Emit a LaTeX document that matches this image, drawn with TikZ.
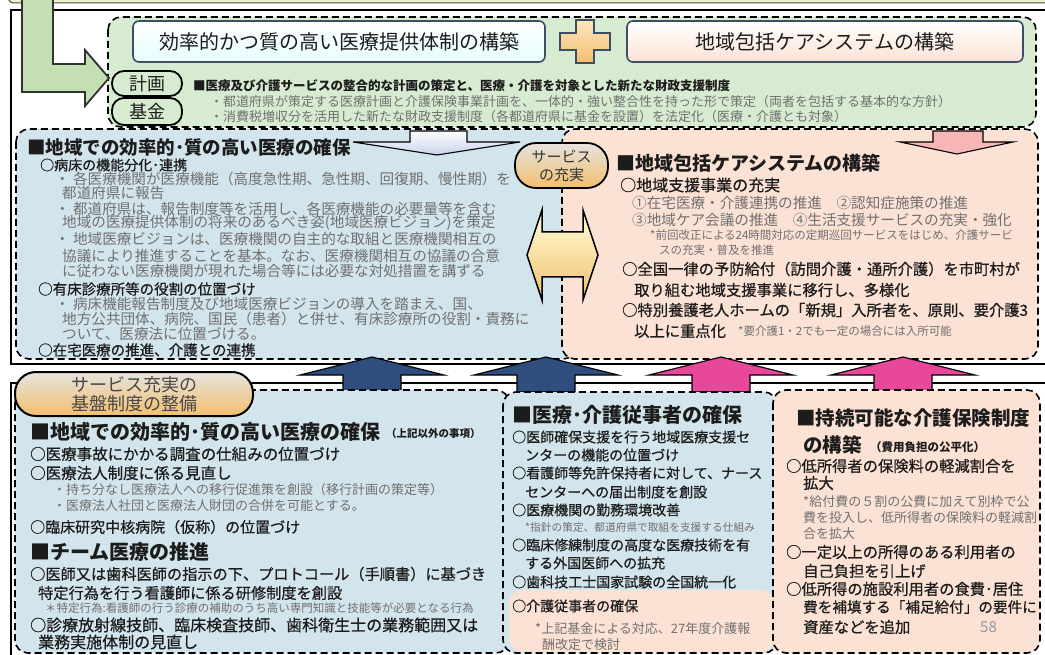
\documentclass[tikz,border=0pt]{standalone}
\usepackage{fontspec}
\newfontfamily\jp{Noto Sans CJK JP}
\newfontfamily\jpm[FakeBold=0.6]{Noto Sans CJK JP}
\definecolor{gfill}{HTML}{D7EBD0}
\definecolor{bfill}{HTML}{D2E4EC}
\definecolor{pfill}{HTML}{FCE2D4}
\definecolor{gtxt}{HTML}{707070}
\definecolor{ktxt}{HTML}{1C1C1C}
\definecolor{navyA}{HTML}{2F4E7E}
\definecolor{pinkA}{HTML}{E8489A}
\definecolor{larrow}{HTML}{C4DFB3}
\definecolor{orangeB}{HTML}{F2BF6E}
\definecolor{bubtop}{HTML}{E6E3DE}
\definecolor{lavA}{HTML}{C9D2EC}
\definecolor{pinkL}{HTML}{F6B6B6}
\definecolor{stripfill}{HTML}{EEF1CC}
\definecolor{numgray}{HTML}{8C9AA6}
\definecolor{boxline}{HTML}{3D4D66}
\tikzset{
 tl/.style={anchor=west,inner sep=0pt,text=ktxt},
 gr/.style={text=gtxt},
 bx/.style={rounded corners=13pt,dash pattern=on 7pt off 4pt,line width=1.6pt,draw=black},
 frame/.style={draw=black,line width=2.8pt},
 upar/.style={draw=black,line width=1.1pt,line join=miter},
 tbox/.style={draw=boxline,line width=1.6pt,rounded corners=6pt,inner sep=0pt,text=ktxt},
 pill/.style={draw=black,line width=1.8pt,rounded corners=12pt,fill=gfill,inner sep=0pt,text=ktxt},
 bubble/.style={draw=black,line width=1.8pt,inner sep=0pt,align=center,top color=bubtop,bottom color=orangeB},
}
\newcommand\tline[5][]{\node[tl,font={\jpm\fontsize{#4}{#4}\selectfont},#1] (#2) at (#3) {#5};}
\newcommand\gline[4]{\node[tl,gr,font={\jp\fontsize{#3}{#3}\selectfont}] (#1) at (#2) {#4};}
\newcommand\btline[4]{\node[tl,font={\jp\bfseries\fontsize{#3}{#3}\selectfont}] (#1) at (#2) {#4};}
\newcommand\bigup[2]{\draw[upar,fill=#2,shift={(#1,0)}] (-29,392) -- (-29,375) -- (-72,375) -- (0,357) -- (72,375) -- (29,375) -- (29,392) -- cycle;}
\begin{document}
\begin{tikzpicture}[x=1pt,y=-1pt]
\useasboundingbox (0,0) rectangle (1045,655);
\fill[white] (0,0) rectangle (1045,655);
% top strip (box above)
\draw[fill=stripfill,draw=black!70,line width=1pt,rounded corners=6pt] (8,-30) rectangle (1070,3);
% upper frame
\draw[frame] (11,10) rectangle (1075,364);
% green box
\draw[bx,fill=gfill] (108,17) rectangle (1036,127);
% upper blue / peach boxes
\draw[bx,fill=bfill] (16,129) rectangle (576,359);
\draw[bx,fill=pfill] (562,129) rectangle (1038,359);
% small down arrows
\draw[upar,top color=white,bottom color=lavA] (410,131) -- (467,131) -- (467,142) -- (520,142) -- (437,155) -- (353,142) -- (410,142) -- cycle;
\draw[upar,fill=pinkL] (933,131) -- (983,131) -- (983,142) -- (1013,142) -- (957,154) -- (900,142) -- (933,142) -- cycle;
% green L arrow
\draw[line width=1.8pt,draw=black!80,fill=larrow,line join=miter] (22,-10) -- (53,-10) -- (53,64) -- (85,64) -- (85,50) -- (109,78) -- (85,106) -- (85,92) -- (22,92) -- cycle;
% title boxes
\node[tbox,top color=white,bottom color=blue!8!cyan!10,minimum width=412pt,minimum height=41pt,font={\jp\fontsize{20}{20}\selectfont}] (h1) at (339,41.5) {効率的かつ質の高い医療提供体制の構築};
\node[tbox,top color=white,bottom color=pfill,minimum width=396pt,minimum height=41pt,font={\jp\fontsize{20}{20}\selectfont}] (h2) at (825,41.5) {地域包括ケアシステムの構築};
\draw[line width=1.6pt,draw=boxline,top color=yellow!20!orange!25,bottom color=orangeB,line join=miter] (576,20) -- (594,20) -- (594,33) -- (610,33) -- (610,50) -- (594,50) -- (594,63) -- (576,63) -- (576,50) -- (560,50) -- (560,33) -- (576,33) -- cycle;
\node[pill,minimum width=70pt,minimum height=25pt,font={\jp\fontsize{18}{18}\selectfont}] (kk) at (147,83.5) {計画};
\node[pill,minimum width=70pt,minimum height=27pt,font={\jp\fontsize{18}{18}\selectfont}] (kf) at (147,111.5) {基金};
% top green texts
\btline{g1}{193,86}{12.5}{■医療及び介護サービスの整合的な計画の策定と、医療・介護を対象とした新たな財政支援制度}
\gline{g2}{210,102}{13}{・都道府県が策定する医療計画と介護保険事業計画を、一体的・強い整合性を持った形で策定（両者を包括する基本的な方針）}
\gline{g3}{210,117}{13}{・消費税増収分を活用した新たな財政支援制度（各都道府県に基金を設置）を法定化（医療・介護とも対象）}
% upper left texts
\btline{a0}{27,147}{18.5}{■地域での効率的･質の高い医療の確保}
\tline{a1}{40,165}{14}{○病床の機能分化･連携}
\gline{a2}{55,179}{14.6}{・ 各医療機関が医療機能（高度急性期、急性期、回復期、慢性期）を}
\gline{a3}{62,193}{14.6}{都道府県に報告}
\gline{a4}{55,209}{14.6}{・ 都道府県は、報告制度等を活用し、各医療機能の必要量等を含む}
\gline{a5}{62,223}{14.6}{地域の医療提供体制の将来のあるべき姿(地域医療ビジョン)を策定}
\gline{a6}{55,239}{14.6}{・ 地域医療ビジョンは、医療機関の自主的な取組と医療機関相互の}
\gline{a7}{62,256}{14.6}{協議により推進することを基本。なお、医療機関相互の協議の合意}
\gline{a8}{62,271}{14.6}{に従わない医療機関が現れた場合等には必要な対処措置を講ずる}
\tline{a9}{38,289}{14.5}{○有床診療所等の役割の位置づけ}
\gline{a10}{55,304}{14.6}{・ 病床機能報告制度及び地域医療ビジョンの導入を踏まえ、国、}
\gline{a11}{62,319}{14.6}{地方公共団体、病院、国民（患者）と併せ、有床診療所の役割・責務に}
\gline{a12}{62,334}{14.6}{ついて、医療法に位置づける。}
\tline{a13}{38,350}{14.5}{○在宅医療の推進、介護との連携}
% upper right texts
\btline{b0}{616,163}{19}{■地域包括ケアシステムの構築}
\tline{b1}{620,185}{16}{○地域支援事業の充実}
\gline{b2}{632,203}{14.6}{①在宅医療・介護連携の推進　②認知症施策の推進}
\gline{b3}{632,220}{14.6}{③地域ケア会議の推進　④生活支援サービスの充実・強化}
\gline{b4}{650,235}{11.5}{*前回改正による24時間対応の定期巡回サービスをはじめ、介護サービ}
\gline{b5}{659,250}{11.5}{スの充実・普及を推進}
\tline{b6}{622,269}{15.3}{○全国一律の予防給付（訪問介護・通所介護）を市町村が}
\tline{b7}{634,290}{15.3}{取り組む地域支援事業に移行し、多様化}
\tline{b8}{622,310}{15.3}{○特別養護老人ホームの「新規」入所者を、原則、要介護3}
\tline{b9}{634,331}{15.3}{以上に重点化}
\gline{b10}{738,331}{11.5}{*要介護1・2でも一定の場合には入所可能}
% bubble and double arrow
\node[bubble,rounded corners=21pt,minimum width=93pt,minimum height=45pt,font={\jp\fontsize{15}{18}\selectfont},text=black!80] (sv) at (561.5,165.5) {サービス\\の充実};
\draw[line width=1.5pt,draw=black,top color=yellow!15,bottom color=orangeB,line join=miter] (527,255) -- (542,210) -- (542,232) -- (583,232) -- (583,210) -- (598,255) -- (583,300) -- (583,277) -- (542,277) -- (542,300) -- cycle;
% lower frame
\draw[frame] (11,383) rectangle (1075,680);
% up arrows
\bigup{372}{navyA}
\bigup{546}{navyA}
\bigup{721}{pinkA}
\bigup{903}{pinkA}
% lower boxes
\draw[bx,fill=bfill] (15,390) rectangle (509,653);
\fill[bfill,rounded corners=13pt] (503,392) rectangle (777,653);
\fill[pfill,rounded corners=14pt] (509,590) rectangle (775,652);
\draw[bx] (503,392) rectangle (777,653);
\draw[bx,fill=pfill] (773,390) rectangle (1040,653);
% lower bubble
\node[bubble,rounded corners=21pt,line width=2pt,minimum width=238pt,minimum height=44pt,font={\jp\fontsize{18}{19}\selectfont},text=black!72] (sb) at (134,394) {サービス充実の\\基盤制度の整備};
% lower left texts
\btline{c0}{30,432}{20}{■地域での効率的･質の高い医療の確保}
\btline{c0b}{386,434}{10.5}{（上記以外の事項）}
\tline{c1}{30,454}{15.5}{○医療事故にかかる調査の仕組みの位置づけ}
\tline{c2}{30,473}{15.5}{○医療法人制度に係る見直し}
\gline{c3}{53,490}{13}{・持ち分なし医療法人への移行促進策を創設（移行計画の策定等）}
\gline{c4}{53,506}{13}{・医療法人社団と医療法人財団の合併を可能とする。}
\tline{c5}{30,527}{15}{○臨床研究中核病院（仮称）の位置づけ}
\btline{c6}{30,552}{20}{■チーム医療の推進}
\tline{c7}{30,574}{15.2}{○医師又は歯科医師の指示の下、プロトコール（手順書）に基づき}
\tline{c8}{38,593}{15.2}{特定行為を行う看護師に係る研修制度を創設}
\gline{c9}{45,608}{11.5}{＊特定行為:看護師の行う診療の補助のうち高い専門知識と技能等が必要となる行為}
\tline{c10}{30,625}{16}{○診療放射線技師、臨床検査技師、歯科衛生士の業務範囲又は}
\tline{c11}{38,642}{16}{業務実施体制の見直し}
% middle texts
\btline{d0}{512,415}{20}{■医療･介護従事者の確保}
\tline{d1}{512,437}{14}{○医師確保支援を行う地域医療支援セ}
\tline{d2}{525,455}{14}{ンターの機能の位置づけ}
\tline{d3}{512,473}{14}{○看護師等免許保持者に対して、ナース}
\tline{d4}{525,492}{14}{センターへの届出制度を創設}
\tline{d5}{512,510}{14}{○医療機関の勤務環境改善}
\gline{d6}{525,527}{10.7}{*指針の策定、都道府県で取組を支援する仕組み}
\tline{d7}{512,545}{14}{○臨床修練制度の高度な医療技術を有}
\tline{d8}{525,563}{14}{する外国医師への拡充}
\tline{d9}{512,582}{14}{○歯科技工士国家試験の全国統一化}
\tline{d10}{512,606}{14}{○介護従事者の確保}
\gline{d11}{535,629}{13}{*上記基金による対応、27年度介護報}
\gline{d12}{542,645}{13}{酬改定で検討}
% right lower texts
\btline{e0}{796,418}{19.5}{■持続可能な介護保険制度}
\btline{e1}{803,445}{19.5}{の構築}
\btline{e1b}{870,447}{11.5}{（費用負担の公平化）}
\tline{e2}{786,466}{15.3}{○低所得者の保険料の軽減割合を}
\tline{e3}{803,483}{15.3}{拡大}
\gline{e4}{803,502}{13}{*給付費の５割の公費に加えて別枠で公}
\gline{e5}{803,518}{13}{費を投入し、低所得者の保険料の軽減割}
\gline{e6}{803,534}{13}{合を拡大}
\tline{e7}{786,552}{15.3}{○一定以上の所得のある利用者の}
\tline{e8}{803,571}{15.3}{自己負担を引上げ}
\tline{e9}{786,589}{15.3}{○低所得の施設利用者の食費･居住}
\tline{e10}{803,607}{14.6}{費を補填する「補足給付」の要件に}
\tline{e11}{803,627}{15.3}{資産などを追加}
\node[tl,text=numgray,font={\jp\fontsize{15}{15}\selectfont}] (e12) at (980,627) {58};
\end{tikzpicture}
\end{document}
